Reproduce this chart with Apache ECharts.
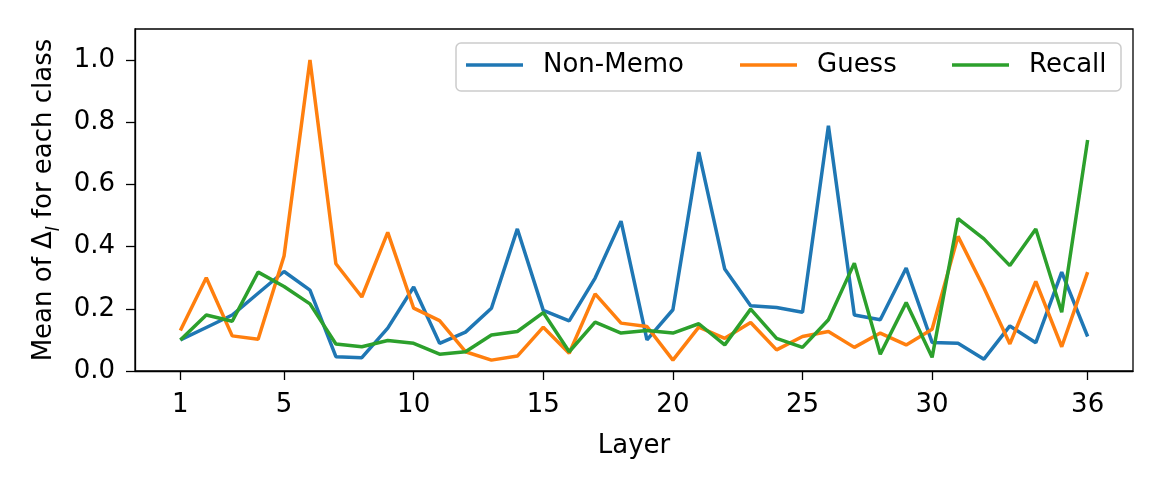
<!DOCTYPE html>
<html>
<head>
<meta charset="utf-8">
<script src="https://cdn.jsdelivr.net/npm/echarts@6/dist/echarts.min.js"></script>
<style>
html,body{margin:0;padding:0;background:#fff;}
#chart{width:1163px;height:485px;}
</style>
</head>
<body>
<div id="chart"></div>
<script>
var layers = [1,2,3,4,5,6,7,8,9,10,11,12,13,14,15,16,17,18,19,20,21,22,23,24,25,26,27,28,29,30,31,32,33,34,35,36];
var nonMemo = [0.10,0.14,0.18,0.25,0.32,0.26,0.046,0.043,0.138,0.27,0.089,0.125,0.202,0.457,0.195,0.161,0.299,0.482,0.10,0.197,0.704,0.328,0.21,0.204,0.189,0.789,0.18,0.165,0.331,0.092,0.089,0.038,0.145,0.091,0.318,0.111];
var guess = [0.13,0.30,0.113,0.102,0.37,1.0,0.345,0.238,0.446,0.202,0.162,0.062,0.035,0.048,0.141,0.057,0.248,0.154,0.143,0.035,0.141,0.105,0.156,0.068,0.111,0.127,0.076,0.122,0.084,0.134,0.433,0.267,0.087,0.288,0.078,0.318];
var recall = [0.10,0.18,0.16,0.318,0.272,0.216,0.087,0.078,0.098,0.089,0.054,0.062,0.116,0.127,0.188,0.062,0.157,0.122,0.13,0.122,0.152,0.084,0.199,0.105,0.076,0.165,0.347,0.054,0.22,0.044,0.49,0.425,0.339,0.457,0.189,0.743];
var xTicks = [1,5,10,15,20,25,30,36];
var yTicks = [0,0.2,0.4,0.6,0.8,1.0];
var seriesNames = ['Non-Memo','Guess','Recall'];
var colors = ['#1f77b4','#ff7f0e','#2ca02c'];

function pairs(vals){ return layers.map(function(l,i){ return [l, vals[i]]; }); }

var FONT = 'DejaVu Sans';
var chart = echarts.init(document.getElementById('chart'), null, {renderer:'canvas'});

function legendFor(i, left){
  return {
    data: [seriesNames[i]],
    left: left, top: 50, padding: 0,
    icon: 'rect', itemWidth: 57, itemHeight: 3.5,
    textStyle: {fontFamily: FONT, fontSize: 26, color: '#000', padding: [0,0,0,15], lineHeight: 30},
    z: 6
  };
}

chart.setOption({
  animation: false,
  color: colors,
  grid: {left: 135, right: 30, top: 29, bottom: 114, show: true, borderColor: '#000', borderWidth: 1.3, backgroundColor: 'transparent'},
  legend: [legendFor(0, 466), legendFor(1, 740), legendFor(2, 952)],
  graphic: [{
    type: 'rect', z: 5,
    shape: {x: 456, y: 43, width: 665, height: 48, r: 5},
    style: {fill: 'rgba(255,255,255,0.8)', stroke: '#cccccc', lineWidth: 1.5}
  }],
  xAxis: {
    type: 'value', min: -0.75, max: 37.75,
    name: 'Layer', nameLocation: 'middle', nameGap: 62,
    nameTextStyle: {fontFamily: FONT, fontSize: 26, color: '#000'},
    axisLine: {show: true, onZero: false, lineStyle: {color: '#000', width: 1.3}},
    axisTick: {show: true, length: 9, lineStyle: {color: '#000', width: 1.3}, customValues: xTicks},
    axisLabel: {fontFamily: FONT, fontSize: 26, color: '#000', margin: 21, customValues: xTicks,
      formatter: function(v){ return String(v); }},
    splitLine: {show: false}
  },
  yAxis: {
    type: 'value', min: 0, max: 1.1,
    name: 'Mean of Δ{sub|l} for each class', nameLocation: 'middle', nameGap: 73,
    nameTextStyle: {fontFamily: FONT, fontSize: 26, color: '#000', lineHeight: 30,
      rich: {sub: {fontFamily: FONT, fontSize: 17, fontStyle: 'italic', color: '#000', verticalAlign: 'bottom', lineHeight: 18, padding: [0,0,-4,0]}}},
    axisLine: {show: true, onZero: false, lineStyle: {color: '#000', width: 1.3}},
    axisTick: {show: true, length: 9, lineStyle: {color: '#000', width: 1.3}, customValues: yTicks},
    axisLabel: {fontFamily: FONT, fontSize: 26, color: '#000', margin: 20, customValues: yTicks,
      formatter: function(v){ return v.toFixed(1); }},
    splitLine: {show: false}
  },
  series: [
    {name: seriesNames[0], type: 'line', data: pairs(nonMemo), symbol: 'none', lineStyle: {width: 3.5, color: colors[0]}, itemStyle: {color: colors[0]}},
    {name: seriesNames[1], type: 'line', data: pairs(guess), symbol: 'none', lineStyle: {width: 3.5, color: colors[1]}, itemStyle: {color: colors[1]}},
    {name: seriesNames[2], type: 'line', data: pairs(recall), symbol: 'none', lineStyle: {width: 3.5, color: colors[2]}, itemStyle: {color: colors[2]}}
  ]
});
</script>
</body>
</html>
